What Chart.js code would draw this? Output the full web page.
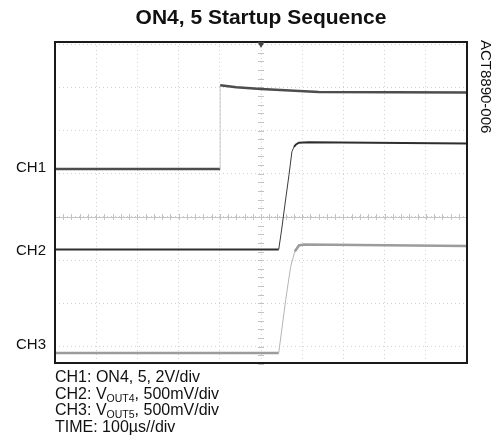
<!DOCTYPE html>
<html>
<head>
<meta charset="utf-8">
<script src="https://cdn.jsdelivr.net/npm/chart.js@4.4.1/dist/chart.umd.min.js"></script>
<style>
    body { margin: 0; background: #fff; font-family: "Liberation Sans", Arial, sans-serif; color: #111; }
    #wrap { position: relative; width: 501px; height: 441px; }
    #caption { position: absolute; left: 55px; top: 369px; font-size: 16px; }
    #caption div { height: 16.6px; line-height: 16.6px; white-space: nowrap; }
    #caption .sub { font-size: 10.5px; position: relative; top: 3px; line-height: 0; }
    #code { position: absolute; left: 478px; top: 40px; font-size: 15px; writing-mode: vertical-rl; }
</style>
</head>
<body>
<div id="wrap">
    <canvas id="scopeChart"></canvas>
    <div id="caption">
        <div>CH1: ON4, 5, 2V/div</div>
        <div>CH2: V<span class="sub">OUT4</span>, 500mV/div</div>
        <div>CH3: V<span class="sub">OUT5</span>, 500mV/div</div>
        <div>TIME: 100µs//div</div>
    </div>
    <div id="code">ACT8890-006</div>
</div>
<script>
// time in µs (100µs/div, trigger at 0), levels in screen divisions from centre
const ch1Time = [-500, -99, -99, -60, 0, 140, 500];
const ch1Div = [1.11, 1.11, 3.05, 3.00, 2.96, 2.89, 2.88];

const ch2Time = [-500, 43, 50, 58, 68, 75, 80, 85, 92, 116, 500];
const ch2Div = [-0.755, -0.755, -0.30, 0.28, 0.98, 1.51, 1.62, 1.68, 1.72, 1.73, 1.70];

const ch3Time = [-500, 43, 60, 72, 82, 92, 104, 500];
const ch3Div = [-3.15, -3.15, -1.91, -1.15, -0.80, -0.66, -0.64, -0.67];

const channelLabels = ['CH1', 'CH2', 'CH3'];
const channelLabelDiv = [1.13, -0.78, -2.95];
const gridDivs = [-3, -2, -1, 0, 1, 2, 3, 4];

const toPoints = (t, v) => t.map((x, i) => ({ x: x, y: v[i] }));

// thin, lighter line for the fast edges
const steep = c => Math.abs(c.p1.parsed.y - c.p0.parsed.y) / Math.max(c.p1.parsed.x - c.p0.parsed.x, 1e-6) > 0.02;

const trace = (label, t, v, color, edgeColor, width) => ({
    label: label,
    data: toPoints(t, v),
    borderColor: color,
    borderWidth: width,
    pointRadius: 0,
    tension: 0,
    fill: false,
    segment: {
        borderColor: c => steep(c) ? edgeColor : undefined,
        borderWidth: c => steep(c) ? 1 : undefined
    }
});

// frame, centre graticule with minor ticks, trigger marker
const scopeDecor = {
    id: 'scopeDecor',
    beforeDatasetsDraw(chart) {
        const { ctx, chartArea: a, scales } = chart;
        const x = scales.x, y = scales.y;
        const cx = x.getPixelForValue(0), cy = y.getPixelForValue(0);
        ctx.save();
        ctx.strokeStyle = '#c4c4c4';
        ctx.lineWidth = 1;
        ctx.beginPath();
        ctx.moveTo(a.left, Math.round(cy) + 0.5);
        ctx.lineTo(a.right, Math.round(cy) + 0.5);
        for (let t = -500; t <= 500; t += 20) {
            const px = Math.round(x.getPixelForValue(t)) + 0.5;
            ctx.moveTo(px, cy - 3);
            ctx.lineTo(px, cy + 3);
        }
        for (let d = -3.4; d <= 4.05; d += 0.2) {
            const py = Math.round(y.getPixelForValue(d)) + 0.5;
            ctx.moveTo(cx - 3, py);
            ctx.lineTo(cx + 3, py);
        }
        ctx.stroke();
        ctx.restore();
    },
    afterDatasetsDraw(chart) {
        const { ctx, chartArea: a, scales } = chart;
        const cx = scales.x.getPixelForValue(0);
        ctx.save();
        ctx.strokeStyle = '#1a1a1a';
        ctx.lineWidth = 2;
        ctx.strokeRect(a.left, a.top, a.right - a.left, a.bottom - a.top);
        ctx.fillStyle = '#444';
        ctx.beginPath();
        ctx.moveTo(cx - 3.5, a.top);
        ctx.lineTo(cx + 3.5, a.top);
        ctx.lineTo(cx, a.top + 6);
        ctx.closePath();
        ctx.fill();
        ctx.restore();
    }
};

const ctx = document.getElementById('scopeChart').getContext('2d');

const scopeChart = new Chart(ctx, {
    type: 'line',
    data: {
        datasets: [
            trace('CH3', ch3Time, ch3Div, '#9c9c9c', '#b4b4b4', 2.5),
            trace('CH1', ch1Time, ch1Div, '#4d4d4d', '#cccccc', 2.5),
            trace('CH2', ch2Time, ch2Div, '#2e2e2e', '#3a3a3a', 2)
        ]
    },
    options: {
        responsive: true,
        maintainAspectRatio: false,
        animation: false,
        layout: {
            padding: { left: 0, right: 34, top: 0, bottom: 78 }
        },
        plugins: {
            legend: { display: false },
            tooltip: { enabled: false },
            title: {
                display: true,
                text: 'ON4, 5 Startup Sequence',
                fullSize: false,
                color: '#111',
                font: { family: '"Liberation Sans", Arial, sans-serif', size: 21, weight: 'bold' },
                padding: { top: 6, bottom: 10.8 }
            }
        },
        scales: {
            x: {
                type: 'linear',
                min: -500,
                max: 500,
                ticks: { display: false, stepSize: 100 },
                grid: { color: '#d2d2d2', drawTicks: false },
                border: { display: false, dash: [1, 3] },
                afterFit: s => { s.height = 0; }
            },
            y: {
                min: -3.38,
                max: 4.05,
                afterBuildTicks: s => { s.ticks = gridDivs.map(v => ({ value: v })); },
                ticks: { display: false },
                grid: { color: '#d2d2d2', drawTicks: false },
                border: { display: false, dash: [1, 3] },
                afterFit: s => { s.width = 0; }
            },
            ch: {
                position: 'left',
                min: -3.38,
                max: 4.05,
                afterBuildTicks: s => { s.ticks = channelLabelDiv.map(v => ({ value: v })); },
                ticks: {
                    autoSkip: false,
                    padding: 9,
                    color: '#111',
                    font: { family: '"Liberation Sans", Arial, sans-serif', size: 15 },
                    callback: (value, i) => channelLabels[i]
                },
                grid: { display: false, drawTicks: false },
                border: { display: false },
                afterFit: s => { s.width = 55; }
            }
        }
    },
    plugins: [scopeDecor]
});
</script>
</body>
</html>
